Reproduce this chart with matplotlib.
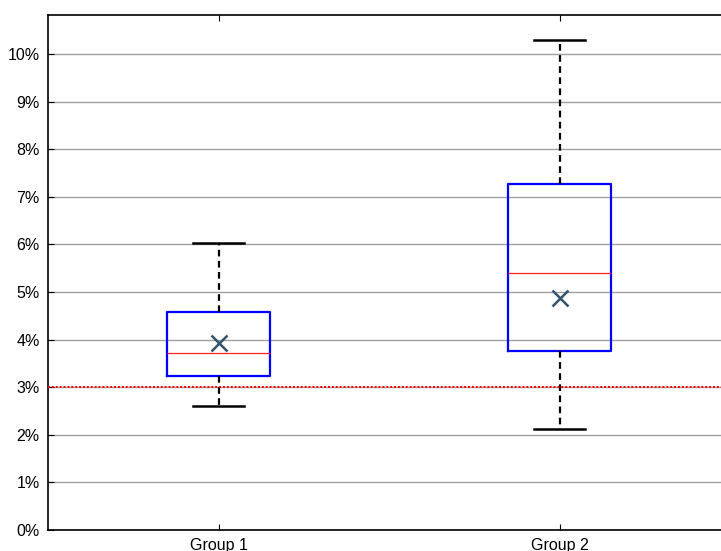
import matplotlib
matplotlib.use("Agg")
import matplotlib.pyplot as plt
from matplotlib.ticker import FuncFormatter

groups = ["Group 1", "Group 2"]
whislo = [0.0260, 0.0212]
q1 = [0.0324, 0.0376]
med = [0.0372, 0.0539]
q3 = [0.0458, 0.0727]
whishi = [0.0603, 0.1029]
means = [0.0393, 0.0487]
threshold = 0.030
yticks = [i / 100 for i in range(0, 11)]

plt.rcParams['font.family'] = ['Liberation Sans', 'DejaVu Sans']

fig = plt.figure(figsize=(7.21, 5.51), dpi=100)
W, H = 721, 551
ax = fig.add_axes([48 / W, (H - 530) / H, (730 - 48) / W, (530 - 15) / H])

stats = []
for i in range(len(groups)):
    stats.append(dict(label=groups[i], whislo=whislo[i], q1=q1[i], med=med[i],
                      q3=q3[i], whishi=whishi[i], mean=means[i], fliers=[]))

ax.bxp(stats, positions=[1, 2], widths=0.30, showmeans=True, showfliers=False,
       boxprops=dict(color='#0000ff', linewidth=1.6),
       medianprops=dict(color='#ff2020', linewidth=0.9),
       whiskerprops=dict(color='black', linewidth=1.6, linestyle=(0, (3, 2))),
       capprops=dict(color='black', linewidth=1.8),
       meanprops=dict(marker='x', markeredgecolor='#34536e', markersize=11,
                      markeredgewidth=1.8),
       capwidths=0.15)

ax.axhline(threshold, color='#ff0000', linestyle=(0, (1, 1)), linewidth=1.4, zorder=3)

ax.set_xlim(0.5, 2.5)
ax.set_ylim(0, 0.1082)
ax.set_yticks(yticks)
ax.yaxis.set_major_formatter(FuncFormatter(lambda v, p: f"{v*100:.0f}%"))
ax.set_xticks([1, 2])
ax.set_xticklabels(groups)
ax.grid(axis='y', color='#a0a0a0', linewidth=1.0, zorder=0)
ax.set_axisbelow(True)
ax.tick_params(axis='both', direction='in', labelsize=11.5, length=4, width=0.8,
               colors='black')
ax.tick_params(axis='x', top=True, pad=6)
ax.tick_params(axis='y', pad=6)
ax.spines['right'].set_visible(False)
for s in ['left', 'top', 'bottom']:
    ax.spines[s].set_linewidth(1.2)

fig.savefig("out.png", dpi=100)
